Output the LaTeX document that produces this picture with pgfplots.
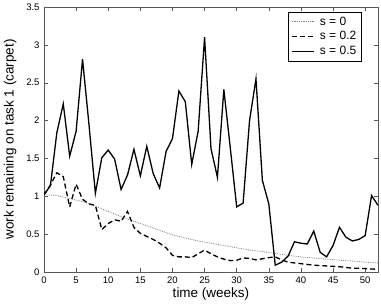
\documentclass[border=0pt]{standalone}
\usepackage{fontspec}
\setmainfont{Liberation Sans}
\usepackage{pgfplots}
\pgfplotsset{compat=1.18}
\begin{document}
\begin{tikzpicture}
\begin{axis}[
  scale only axis,
  width=334pt, height=265pt,
  xmin=0, xmax=52, ymin=0, ymax=3.5,
  xtick={0,5,...,50},
  ytick={0,0.5,...,3.5},
  tick align=inside,
  major tick length=4pt,
  axis line style={gray!70!black},
  every tick/.style={gray!70!black},
  tick label style={font=\fontsize{9.5}{10}\selectfont},
  /pgf/number format/assume math mode=true,
  yticklabel style={/pgf/number format/fixed, xshift=-1pt},
  xticklabel style={yshift=-1pt},
  xlabel={time (weeks)},
  ylabel={work remaining on task 1 (carpet)},
  label style={font=\fontsize{13.5}{15}\selectfont},
  xlabel style={yshift=2pt},
  ylabel style={yshift=3pt},
  legend style={at={(rel axis cs:0.949,0.981)}, anchor=north east,
    font=\fontsize{12}{13}\selectfont, draw=black, row sep=2pt,
    inner sep=3pt, nodes={inner sep=1.5pt},
    /tikz/every odd column/.append style={column sep=4pt}},
  legend image code/.code={\draw[#1] (0pt,0pt) -- (22pt,0pt);},
  legend cell align=left,
]
\addplot[gray, densely dotted, line width=0.8pt] coordinates {
(0,1.02)(2,1.01)(4,0.97)(6,0.93)(8,0.87)(10,0.80)(12,0.73)(14,0.67)(16,0.61)(18,0.55)(20,0.49)(22,0.45)(24,0.41)(26,0.38)(28,0.35)(30,0.32)(32,0.29)(34,0.27)(36,0.245)(38,0.22)(40,0.20)(42,0.185)(44,0.17)(46,0.155)(48,0.145)(50,0.13)(52,0.12)
};
\addlegendentry{s = 0}
\addplot[black, dashed, line width=1.3pt, dash pattern=on 5pt off 3pt] coordinates {
(0,1.02)(1,1.15)(2,1.31)(3,1.26)(4,0.86)(5,1.16)(6,0.96)(7,0.90)(8,0.88)(9,0.56)(10,0.64)(11,0.69)(12,0.67)(13,0.80)(14,0.59)(15,0.51)(16,0.47)(17,0.43)(18,0.38)(19,0.32)(20,0.22)(21,0.20)(22,0.20)(23,0.19)(24,0.24)(25,0.29)(26,0.24)(27,0.20)(28,0.17)(29,0.15)(30,0.155)(31,0.185)(32,0.18)(33,0.16)(34,0.175)(35,0.19)(36,0.20)(37,0.16)(38,0.13)(39,0.12)(40,0.11)(41,0.10)(42,0.09)(43,0.085)(44,0.08)(45,0.075)(46,0.07)(47,0.06)(48,0.05)(49,0.05)(50,0.045)(51,0.04)(52,0.035)
};
\addlegendentry{s = 0.2}
\addplot[black, solid, line width=1.3pt] coordinates {
(0,1.02)(1,1.14)(2,1.84)(3,2.22)(4,1.53)(5,1.86)(6,2.81)(7,1.95)(8,1.04)(9,1.51)(10,1.61)(11,1.49)(12,1.09)(13,1.28)(14,1.62)(15,1.27)(16,1.66)(17,1.30)(18,1.11)(19,1.59)(20,1.76)(21,2.39)(22,2.25)(23,1.42)(24,1.86)(25,3.10)(26,1.63)(27,1.25)(28,2.41)(29,1.64)(30,0.86)(31,0.91)(32,2.0)(33,2.55)(34,1.21)(35,0.90)(36,0.09)(37,0.13)(38,0.21)(39,0.40)(40,0.38)(41,0.37)(42,0.54)(43,0.26)(44,0.20)(45,0.35)(46,0.59)(47,0.46)(48,0.41)(49,0.43)(50,0.48)(51,1.01)(52,0.88)
};
\addlegendentry{s = 0.5}
\end{axis}
\pgfresetboundingbox
\path (current axis.south west) ++(-44pt,-35pt) coordinate (bbA);
\path (current axis.north east) ++(3pt,7pt) coordinate (bbB);
\useasboundingbox (bbA) rectangle (bbB);
\end{tikzpicture}
\end{document}
